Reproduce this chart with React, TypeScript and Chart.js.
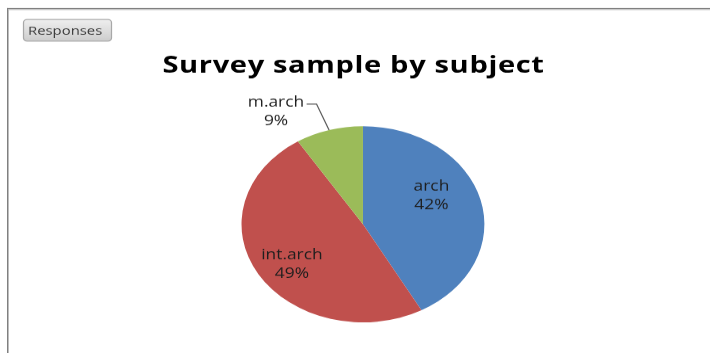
import React, { useEffect, useRef } from 'react';
import { Chart, ArcElement, PieController } from 'chart.js';

Chart.register(PieController, ArcElement);

// ---- data ----
const subjects = ['arch', 'int.arch', 'm.arch'];
const shares = [42, 49, 9];
const sliceColors = ['#4F81BD', '#C0504D', '#9BBB59'];
const chartTitle = 'Survey sample by subject';
const buttonText = 'Responses';

// The chart is laid out on a narrower logical canvas and shown widened by STRETCH,
// which gives the oval pie and the wide lettering.
const STRETCH = 1.2392;
const LOGICAL_W = 573;
const H = 353;

// Label anchors in pie radii from the centre: [dx, dy of first baseline]
const LABEL_ANCHORS = [
  [0.564, -0.34],
  [-0.585, 0.357],
  [-0.716, -1.199],
];
const LINE_GAP = 18.5;

const decor = {
  id: 'decor',
  beforeDraw(chart: any) {
    const { ctx, width, height } = chart;
    ctx.save();
    ctx.fillStyle = '#ffffff';
    ctx.fillRect(0, 0, width, height);

    // frame: top and left edges
    const fx = 7 / STRETCH;
    ctx.fillStyle = '#808080';
    ctx.fillRect(fx, 8, width, 1);
    ctx.fillRect(fx, 8, 1 / STRETCH, height);
    ctx.fillStyle = '#bdbdbd';
    ctx.fillRect(fx + 1 / STRETCH, 9, width, 1);
    ctx.fillRect(fx + 1 / STRETCH, 9, 1 / STRETCH, height);

    // "Responses" button
    const bx = 23.5 / STRETCH, by = 19.5, bw = 88 / STRETCH, bh = 21.5;
    const g = ctx.createLinearGradient(0, by, 0, by + bh);
    g.addColorStop(0, '#efefef');
    g.addColorStop(1, '#cdcdcd');
    ctx.beginPath();
    ctx.roundRect(bx, by, bw, bh, 3);
    ctx.fillStyle = g;
    ctx.fill();
    ctx.strokeStyle = '#a8a8a8';
    ctx.lineWidth = 1;
    ctx.stroke();
    ctx.fillStyle = '#3c3c3c';
    ctx.font = '12px "Open Sans"';
    ctx.textAlign = 'left';
    ctx.textBaseline = 'alphabetic';
    ctx.fillText(buttonText, 28 / STRETCH, 35);

    // title
    ctx.font = 'bold 23.5px "Open Sans"';
    (ctx as any).letterSpacing = '0.5px';
    ctx.textAlign = 'center';
    ctx.fillStyle = '#000000';
    ctx.fillText(chartTitle, 353.5 / STRETCH, 72.5);
    ctx.restore();
  },
  afterDatasetsDraw(chart: any) {
    const { ctx } = chart;
    const meta = chart.getDatasetMeta(0);
    const total = shares.reduce((a, b) => a + b, 0);
    ctx.save();
    ctx.font = '14px "Open Sans"';
    ctx.textAlign = 'center';
    ctx.textBaseline = 'alphabetic';
    meta.data.forEach((arc: any, i: number) => {
      const { x, y, outerRadius, startAngle, endAngle } = arc.getProps(
        ['x', 'y', 'outerRadius', 'startAngle', 'endAngle'],
        true
      );
      const [ax, ay] = LABEL_ANCHORS[i];
      const lx = x + ax * outerRadius;
      const ly = y + ay * outerRadius;
      const pct = Math.round((shares[i] / total) * 100) + '%';
      ctx.fillStyle = '#1e1e1e';
      ctx.fillText(subjects[i], lx, ly);
      ctx.fillText(pct, lx, ly + LINE_GAP);

      // leader line for a label placed outside the pie
      if (Math.hypot(ax, ay) > 1) {
        const w = ctx.measureText(subjects[i]).width;
        const mid = (startAngle + endAngle) / 2;
        const sx = lx + w / 2 + 2;
        const sy = ly - 2.5;
        ctx.beginPath();
        ctx.moveTo(sx, sy);
        ctx.lineTo(sx + 8, sy);
        ctx.lineTo(x + Math.cos(mid) * outerRadius, y + Math.sin(mid) * outerRadius);
        ctx.strokeStyle = '#5a5a5a';
        ctx.lineWidth = 1;
        ctx.stroke();
      }
    });
    ctx.restore();
  },
};

export default function App() {
  const ref = useRef<HTMLCanvasElement>(null);

  useEffect(() => {
    if (!ref.current) return;
    const chart = new Chart(ref.current, {
      type: 'pie',
      data: {
        labels: subjects,
        datasets: [
          {
            data: shares,
            backgroundColor: sliceColors,
            borderWidth: 0,
            hoverOffset: 0,
            offset: 0,
            clip: false,
          } as any,
        ],
      },
      options: {
        responsive: false,
        devicePixelRatio: STRETCH,
        animation: false,
        events: [],
        layout: { padding: { left: 194.9, right: 182.1, top: 126, bottom: 31 } },
      },
      plugins: [decor],
    });
    return () => chart.destroy();
  }, []);

  return (
    <div style={{ position: 'fixed', left: 0, top: 0, width: 710, height: H, background: '#fff' }}>
      <canvas
        ref={ref}
        width={LOGICAL_W}
        height={H}
        style={{ display: 'block', width: '710px', height: `${H}px` }}
      />
    </div>
  );
}
